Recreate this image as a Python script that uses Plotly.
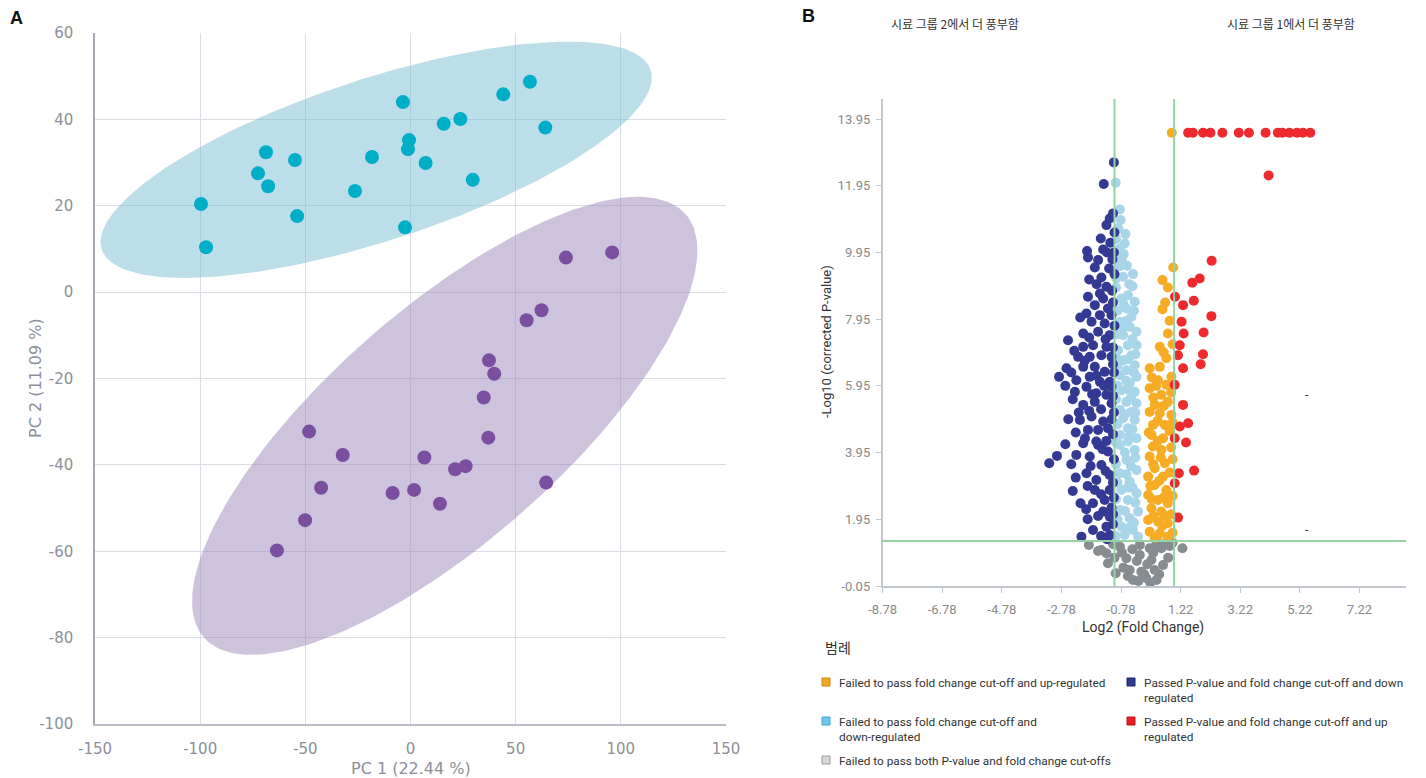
import numpy as np
import plotly.graph_objects as go

# ---------------- Panel A: PCA scores ----------------
g1_pc1 = [-99.6, -97.2, -72.5, -68.7, -67.7, -54.9, -53.9, -26.4, -18.3, -3.6,
          -0.7, -1.2, -2.6, 7.2, 15.8, 23.7, 44.1, 56.8, 64.1, 29.6]
g1_pc2 = [20.4, 10.4, 27.5, 32.4, 24.5, 30.6, 17.6, 23.4, 31.3, 44.0,
          35.2, 33.1, 15.0, 29.9, 39.0, 40.1, 45.8, 48.7, 38.1, 26.0]
g2_pc1 = [73.9, 95.9, 62.3, 55.2, 37.3, 39.8, 34.8, 37.0, 6.6, 21.2,
          26.2, 1.7, 14.0, 64.5, -48.2, -32.2, -42.5, -8.5, -50.1, -63.5]
g2_pc2 = [8.0, 9.2, -4.2, -6.5, -15.8, -18.9, -24.4, -33.7, -38.3, -41.0,
          -40.3, -45.8, -49.0, -44.1, -32.3, -37.7, -45.3, -46.5, -52.8, -59.8]
pca_xticks = [-150, -100, -50, 0, 50, 100, 150]
pca_yticks = [-100, -80, -60, -40, -20, 0, 20, 40, 60]

# ---------------- Panel B: volcano ----------------
down_pass = [(-1.02,12.65),(-1.36,12.00),(-1.05,11.12),(-1.16,10.97),(-1.27,10.77),(-1.46,10.37),
    (-1.14,10.24),(-1.38,10.04),(-1.92,9.99),(-1.89,9.80),(-1.55,9.72),(-1.07,9.74),(-1.66,9.50),
    (-1.18,9.47),(-1.85,9.14),(-1.44,9.20),(-1.27,8.92),(-1.89,8.62),(-1.49,8.72),(-1.38,8.57),
    (-1.66,8.37),(-1.22,8.27),(-1.94,8.12),(-1.49,8.07),(-1.10,8.07),(-1.77,7.87),(-1.33,7.82),
    (-2.05,7.52),(-2.56,7.32),(-1.55,7.57),(-1.16,7.47),(-1.72,7.17),(-2.05,7.12),(-1.27,7.12),
    (-2.22,6.82),(-1.83,6.82),(-1.44,6.87),(-1.10,6.82),(-2.61,6.48),(-2.05,6.52),(-1.66,6.52),
    (-1.33,6.37),(-2.86,6.22),(-2.28,6.12),(-1.83,6.22),(-1.49,6.07),(-1.16,6.07),(-2.33,5.77),
    (-1.94,5.92),(-1.61,5.73),(-1.27,5.68),(-1.10,5.93),(-2.05,5.38),(-1.66,5.47),(-1.10,5.43),
    (-2.16,4.93),(-1.77,5.03),(-1.38,4.88),(-1.89,4.63),(-1.55,4.63),(-1.22,4.68),(-1.99,4.38),
    (-1.61,4.28),(-1.27,4.30),(-2.05,4.23),(-1.55,4.18),(-2.93,3.85),(-3.19,3.63),(-2.28,3.88),
    (-1.83,3.83),(-1.22,3.98),(-1.44,3.58),(-1.94,3.33),(-1.61,3.13),(-1.16,3.28),(-1.66,2.83),
    (-1.16,2.83),(-2.14,2.43),(-1.72,2.43),(-1.33,2.53),(-1.38,2.18),(-1.16,2.03),(-1.72,1.63),
    (-1.27,1.73),(-2.11,1.43),(-1.16,1.48),
    (-1.05,8.45),(-1.30,7.35),(-1.85,7.40),(-1.05,6.60),(-1.60,6.25),(-2.00,6.70),(-1.35,5.95),
    (-1.75,5.70),(-2.40,5.55),(-1.45,5.25),(-1.85,5.20),(-1.10,4.95),(-2.30,4.55),(-1.40,4.05),
    (-1.80,3.55),(-2.45,3.60),(-1.30,3.40),(-1.90,2.95),(-1.45,2.70),(-1.10,2.30),(-1.55,2.05),
    (-1.90,1.95),(-1.05,1.80),(-1.45,1.45),
    (-1.00,10.55),(-1.02,9.95),(-1.00,9.30),(-1.08,8.80),(-1.00,7.75),(-1.05,7.10),(-1.02,6.35),
    (-1.05,5.65),(-1.02,5.15),(-1.05,4.50),(-1.02,3.75),(-1.05,3.05),(-1.02,2.60),(-1.05,2.10),
    (-1.25,9.95),(-1.60,9.00),(-2.15,8.00),(-2.35,7.00),(-2.45,6.35),(-2.65,5.95),(-2.20,5.15),
    (-2.55,4.95),(-2.65,4.20),(-2.30,3.20),(-2.40,2.80),(-1.95,2.25),(-1.25,1.35)]
down_fail = [(-0.96,12.04),(-0.82,11.24),(-0.79,10.92),(-0.87,10.67),(-0.63,10.50),(-0.66,10.22),
    (-0.82,10.07),(-0.69,9.90),(-0.82,9.54),(-0.58,9.55),(-0.38,9.30),(-0.71,9.22),(-0.94,9.17),
    (-0.40,8.94),(-0.55,8.67),(-0.77,8.57),(-0.32,8.47),(-0.60,8.27),(-0.43,8.02),(-0.82,7.87),
    (-0.49,7.72),(-0.26,7.57),(-0.71,7.47),(-0.26,7.17),(-0.55,7.17),(-0.88,7.02),(-0.43,6.87),
    (-0.71,6.72),(-0.32,6.57),(-0.60,6.42),(-0.82,6.27),(-0.26,6.22),(-0.49,6.03),(-0.77,5.82),
    (-0.32,5.77),(-0.60,5.47),(-0.26,5.43),(-0.82,5.23),(-0.43,5.17),(-0.71,4.98),(-0.32,4.93),
    (-0.55,4.68),(-0.82,4.48),(-0.26,4.38),(-0.55,4.28),(-0.82,4.18),(-0.32,4.03),(-0.60,3.73),
    (-0.26,3.43),(-0.82,3.33),(-0.49,3.08),(-0.77,2.83),(-0.26,2.73),(-0.55,2.53),(-0.82,2.23),
    (-0.21,2.18),(-0.49,1.98),(-0.77,1.73),(-0.38,1.63),(-0.66,1.48),(-0.21,1.43),
    (-0.90,9.85),(-0.50,9.00),(-0.90,8.20),(-0.60,7.90),(-0.90,7.50),(-0.40,7.35),(-0.90,6.55),
    (-0.60,6.10),(-0.90,5.95),(-0.45,5.60),(-0.65,5.10),(-0.90,4.80),(-0.40,4.65),(-0.65,3.95),
    (-0.45,3.55),(-0.90,3.05),(-0.40,2.90),(-0.65,2.20),(-0.90,1.95),(-0.35,1.85),
    (-0.95,10.35),(-0.75,9.70),(-0.95,8.90),(-0.70,8.40),(-0.35,8.20),(-0.70,7.70),(-0.30,6.90),
    (-0.95,6.80),(-0.55,6.75),(-0.35,6.35),(-0.95,5.55),(-0.55,5.85),(-0.30,5.15),(-0.95,4.25),
    (-0.50,4.45),(-0.30,3.80),(-0.95,3.60),(-0.60,3.30),(-0.55,2.90),(-0.30,2.45),(-0.95,2.55),
    (-0.50,1.70),(-0.95,1.45)]
up_fail = [(0.92,13.54),(0.97,9.50),(0.61,9.12),(0.79,8.90),(0.61,8.25),(0.79,7.52),(0.52,7.12),
    (0.74,6.78),(0.18,6.48),(0.52,6.52),(0.91,6.22),(0.46,6.12),(0.74,5.98),(0.18,5.88),(0.57,5.68),
    (0.35,5.38),(0.79,5.47),(0.18,5.17),(0.52,5.13),(0.91,5.08),(0.29,4.78),(0.69,4.78),(0.24,4.48),
    (0.63,4.38),(0.29,4.13),(0.57,4.03),(0.18,3.83),(0.69,3.63),(0.35,3.48),(0.13,3.23),(0.63,3.23),
    (0.35,2.98),(0.74,2.83),(0.13,2.68),(0.46,2.53),(0.79,2.43),(0.24,2.28),(0.57,2.18),(0.13,1.93),
    (0.46,1.88),(0.79,1.83),(0.18,1.58),(0.52,1.53),(0.79,1.43),
    (0.85,7.90),(0.40,5.95),(0.90,5.75),(0.30,5.60),(0.65,5.35),(0.45,4.90),(0.85,4.60),(0.45,4.30),
    (0.90,4.10),(0.30,3.60),(0.85,3.35),(0.50,3.10),(0.25,2.55),(0.65,2.60),(0.30,2.05),(0.90,2.10),
    (0.35,1.40),(0.60,1.75),
    (0.70,8.45),(0.95,7.20),(0.65,6.95),(0.25,6.20),(0.95,4.85),(0.15,4.55),(0.55,3.80),(0.95,3.75),
    (0.20,2.95),(0.95,2.65),(0.70,2.05),(0.45,1.45),(0.95,1.55)]
up_pass = [(1.47,13.54),(1.63,13.54),(1.97,13.54),(2.22,13.54),(2.62,13.54),(3.17,13.54),(3.51,13.54),
    (4.07,13.54),(4.48,13.54),(4.63,13.54),(4.87,13.54),(5.12,13.54),(5.32,13.54),(5.57,13.54),
    (4.17,12.26),(2.26,9.70),(1.86,9.17),(1.61,9.04),(1.03,8.62),(1.66,8.50),(1.30,8.37),(2.25,8.04),
    (1.25,7.87),(1.32,7.52),(1.99,7.55),(1.19,7.17),(1.13,6.87),(1.97,6.90),(1.89,6.60),(1.30,6.48),
    (1.02,5.98),(1.30,5.38),(1.47,4.83),(1.19,4.73),(1.02,4.38),(1.40,4.25),(1.16,3.33),(1.67,3.41),
    (1.02,3.03),(1.13,2.00)]
not_sig = [(-1.86,1.18),(-1.44,1.03),(-0.82,1.13),(-0.15,1.18),(0.18,1.08),(0.57,1.08),(1.28,1.08),
    (-1.22,0.63),(-0.60,0.78),(-0.15,0.88),(0.24,0.73),(0.63,0.58),(-0.96,0.33),(-0.49,0.43),
    (-0.10,0.38),(0.35,0.43),(-0.38,0.13),(0.07,0.18),(0.41,0.13),(-1.27,0.93),
    (-1.05,1.20),(-0.40,1.05),(0.40,1.20),(0.85,1.15),(-0.70,0.50),(0.10,0.60),(0.50,0.30),
    (-0.20,0.10),(0.20,0.05),(-0.75,0.95),(0.80,0.80),
    (-1.55,1.00),(-0.25,0.70),(0.30,0.95),(0.95,1.25),(-0.55,0.25),(0.00,0.30),(0.65,1.20),
    (-1.00,0.80)]
fc_cutoff = 1.0
p_cutoff = 0.05
vol_xticks = [-8.78 + 2 * i for i in range(9)]
vol_yticks = [-0.05 + 2 * i for i in range(8)]

legend_labels = [
    "Failed to pass fold change cut-off and up-regulated",
    "Failed to pass fold change cut-off and<br>down-regulated",
    "Failed to pass both P-value and fold change cut-offs",
    "Passed P-value and fold change cut-off and down<br>regulated",
    "Passed P-value and fold change cut-off and up<br>regulated",
]

# ---------------- styles ----------------
W, H = 1426, 778
CYAN, PURPLE = "#00aec7", "#7a4f9f"
CYAN_FILL, PURPLE_FILL = "rgba(120,190,210,0.5)", "rgba(155,135,185,0.5)"
C_DOWN, C_DOWNF, C_UPF, C_UP, C_NS = "#343a94", "#a8d5ea", "#f7ac25", "#ee2a2f", "#878c91"
GREEN = "#93d3a6"
GREY_TXT = "#8c9099"
FA = "DejaVu Sans"
FB = "Roboto"
KR = "Noto Sans CJK KR"


def px(x):
    return x / W


def py(y):
    return 1 - y / H


def conf_ellipse(xs, ys, k=7.0, n=240):
    pts = np.column_stack([xs, ys])
    mu = pts.mean(axis=0)
    cov = np.cov(pts.T)
    vals, vecs = np.linalg.eigh(cov)
    t = np.linspace(0, 2 * np.pi, n)
    circ = np.vstack([np.cos(t), np.sin(t)])
    e = vecs @ (np.sqrt(vals * k)[:, None] * circ) + mu[:, None]
    return e[0], e[1]


def fmt(v):
    return str(int(v)) if abs(v - round(v)) < 1e-9 else f"{v:.2f}"


fig = go.Figure()

# Panel A ellipses & points
for xs, ys, fill in [(g1_pc1, g1_pc2, CYAN_FILL), (g2_pc1, g2_pc2, PURPLE_FILL)]:
    ex, ey = conf_ellipse(xs, ys)
    fig.add_trace(go.Scatter(x=ex, y=ey, mode="lines", fill="toself", fillcolor=fill,
                             line=dict(width=0), hoverinfo="skip", xaxis="x", yaxis="y"))
fig.add_trace(go.Scatter(x=g1_pc1, y=g1_pc2, mode="markers", marker=dict(size=14, color=CYAN),
                         xaxis="x", yaxis="y"))
fig.add_trace(go.Scatter(x=g2_pc1, y=g2_pc2, mode="markers", marker=dict(size=14, color=PURPLE),
                         xaxis="x", yaxis="y"))

# Panel B points
for pts, col in [(not_sig, C_NS), (down_fail, C_DOWNF), (up_fail, C_UPF),
                 (down_pass, C_DOWN), (up_pass, C_UP)]:
    fig.add_trace(go.Scatter(x=[p[0] for p in pts], y=[p[1] for p in pts], mode="markers",
                             marker=dict(size=10, color=col), xaxis="x2", yaxis="y2"))

# cut-off lines
pthr = -np.log10(p_cutoff)
shapes = [
    dict(type="line", xref="x2", yref="y2 domain", x0=-fc_cutoff, x1=-fc_cutoff, y0=0, y1=1,
         line=dict(color=GREEN, width=2)),
    dict(type="line", xref="x2", yref="y2 domain", x0=fc_cutoff, x1=fc_cutoff, y0=0, y1=1,
         line=dict(color=GREEN, width=2)),
    dict(type="line", xref="x2 domain", yref="y2", x0=0, x1=1, y0=pthr, y1=pthr,
         line=dict(color=GREEN, width=2)),
]

# legend swatches
sw = [(826, 682, "#f5a623", "#c98a1a"), (826, 721, "#6ec6f0", "#4aa3cc"),
      (826, 760, "#d3d5d8", "#9a9da2"), (1131, 682, "#2b3990", "#1d2766"),
      (1131, 721, "#ed1c24", "#b5151b")]
for cx, cy, fc, lc in sw:
    shapes.append(dict(type="rect", xref="paper", yref="paper", x0=px(cx - 4), x1=px(cx + 4),
                       y0=py(cy + 4), y1=py(cy - 4), fillcolor=fc, line=dict(color=lc, width=1)))

ann = []


def add_text(text, x, y, size, color, family, xanchor="center", yanchor="middle", angle=0, bold=False):
    ann.append(dict(text=(f"<b>{text}</b>" if bold else text), x=px(x), y=py(y), xref="paper",
                    yref="paper", showarrow=False, xanchor=xanchor, yanchor=yanchor, textangle=angle,
                    font=dict(size=size, color=color, family=family), align="left"))


add_text("A", 8, 18, 18, "#111", "Liberation Sans", xanchor="left", bold=True)
add_text("B", 800, 16, 18, "#111", "Liberation Sans", xanchor="left", bold=True)
add_text("PC 1 (22.44 %)", 411, 768, 16, GREY_TXT, FA)
add_text("PC 2 (11.09 %)", 35, 378, 16, GREY_TXT, FA, angle=-90)
add_text("시료 그룹 2에서 더 풍부함", 955, 23, 12, "#333", KR)
add_text("시료 그룹 1에서 더 풍부함", 1291, 23, 12, "#333", KR)
add_text("-Log10 (corrected P-value)", 826, 342, 13, "#333", FB, angle=-90)
add_text("Log2 (Fold Change)", 1143, 627, 14, "#333", FB)
add_text("범례", 823, 647, 14, "#333", KR, xanchor="left")
add_text("-", 1307, 395, 12, "#333", FB)
add_text("-", 1307, 530, 12, "#333", FB)
leg_pos = [(837, 682), (837, 721), (837, 760), (1142, 682), (1142, 721)]
for (lx, ly), lab in zip(leg_pos, legend_labels):
    add_text(lab, lx, ly - 8, 11.8, "#333", FB, xanchor="left", yanchor="top")

fig.update_layout(
    template="none",
    width=W, height=H, margin=dict(l=0, r=0, t=0, b=0, pad=0, autoexpand=False),
    paper_bgcolor="white", plot_bgcolor="white", showlegend=False,
    shapes=shapes, annotations=ann,
    xaxis=dict(domain=[px(95), px(726)], range=[-150, 150], tickvals=pca_xticks,
               ticktext=[fmt(v) for v in pca_xticks], showgrid=True, gridcolor="#dcdce6",
               gridwidth=1, zeroline=False, showline=True, linecolor="#b8bcc6", linewidth=2,
               ticks="", ticklabelstandoff=10, automargin=False,
               tickfont=dict(family=FA, size=15, color=GREY_TXT), anchor="y"),
    yaxis=dict(domain=[py(724), py(33)], range=[-100, 60], tickvals=pca_yticks,
               ticktext=[fmt(v) for v in pca_yticks], showgrid=True, gridcolor="#dcdce6",
               gridwidth=1, zeroline=False, showline=True, linecolor="#a4a9b5", linewidth=1.5,
               ticks="", ticklabelstandoff=17, automargin=False,
               tickfont=dict(family=FA, size=15, color=GREY_TXT), anchor="x"),
    xaxis2=dict(domain=[px(882.6), px(1406)], range=[-8.78, 8.78], tickvals=vol_xticks,
                ticktext=[f"{v:.2f}" for v in vol_xticks], showgrid=False, zeroline=False,
                showline=True, linecolor="#c3c7d0", linewidth=1.5, ticks="outside", ticklen=5,
                tickcolor="#c3c7d0", ticklabelstandoff=6, automargin=False,
                tickfont=dict(family=FB, size=13, color="#8a8a8a"), anchor="y2"),
    yaxis2=dict(domain=[py(586), py(99)], range=[-0.05, 14.55], tickvals=vol_yticks,
                ticktext=[f"{v:.2f}" for v in vol_yticks], showgrid=False, zeroline=False,
                showline=True, linecolor="#c3c7d0", linewidth=1.5, ticks="outside", ticklen=5,
                tickcolor="#c3c7d0", ticklabelstandoff=3, automargin=False,
                tickfont=dict(family=FB, size=13, color="#8a8a8a"), anchor="x2"),
)

fig.write_html("out.html", config={"displayModeBar": False},
               post_script="document.body.style.margin='0px';document.body.style.padding='0px';"
                           "document.body.style.overflow='hidden';")
